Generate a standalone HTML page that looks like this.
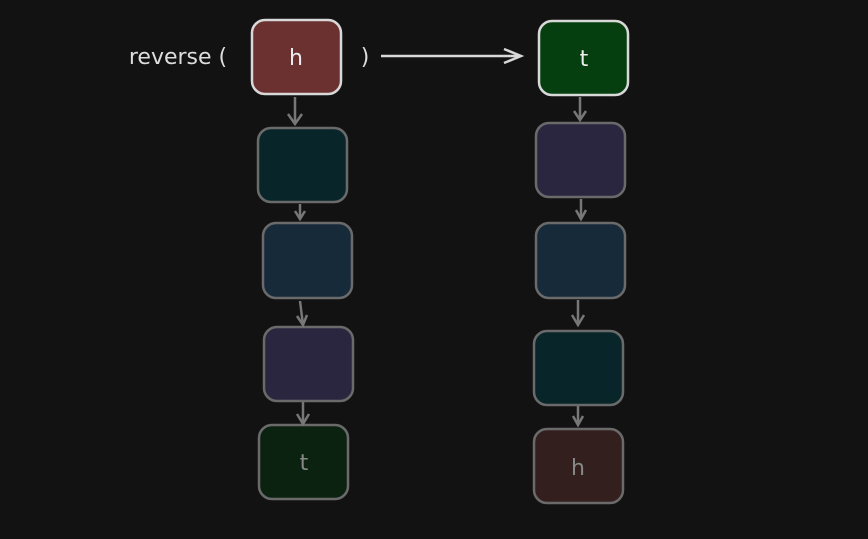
<!DOCTYPE html>
<html><head><style>
body{margin:0;background:#121212;width:868px;height:535px;overflow:hidden;font-family:"DejaVu Sans","Liberation Sans",sans-serif}
</style></head><body>
<svg width="868" height="535" xmlns="http://www.w3.org/2000/svg">
<rect width="868" height="535" fill="#121212"/>
<defs>
<marker id="g" markerWidth="10" markerHeight="10" refX="5" refY="8" orient="auto" markerUnits="userSpaceOnUse"><path d="M0,0 L5,8 L10,0" fill="none" stroke="#777" stroke-width="2"/></marker>
</defs>
<g stroke="#6a6a6a" stroke-width="2.5">
<rect x="258" y="128" width="89" height="74" rx="13" fill="#082629"/>
<rect x="263" y="223" width="89" height="75" rx="13" fill="#162a3a"/>
<rect x="264" y="327" width="89" height="74" rx="13" fill="#2a263f"/>
<rect x="259" y="425" width="89" height="74" rx="13" fill="#0c2210"/>
<rect x="536" y="123" width="89" height="74" rx="13" fill="#2a263f"/>
<rect x="536" y="223" width="89" height="75" rx="13" fill="#162a3a"/>
<rect x="534" y="331" width="89" height="74" rx="13" fill="#082629"/>
<rect x="534" y="429" width="89" height="74" rx="13" fill="#341f1f"/>
</g>
<g stroke="#d8d8d8" stroke-width="2.5">
<rect x="252" y="20" width="89" height="74" rx="13" fill="#6b3030"/>
<rect x="539" y="21" width="89" height="74" rx="13" fill="#053f0f"/>
</g>
<g stroke="#777" stroke-width="2.5" fill="none">
<path d="M295,97 L295,124"/><path d="M288,114 L295,124 L302,114"/>
<path d="M300,204 L300,219"/><path d="M295,211 L300,219 L305,211"/>
<path d="M300,301 L303,325"/><path d="M297,316 L303,325 L307,315"/>
<path d="M303,402 L303,424"/><path d="M297,414 L303,424 L309,414"/>
<path d="M580,97 L580,120"/><path d="M574,111 L580,120 L586,111"/>
<path d="M581,199 L581,219"/><path d="M576,210 L581,219 L586,210"/>
<path d="M578,300 L578,325"/><path d="M572,315 L578,325 L584,315"/>
<path d="M578,406 L578,425"/><path d="M573,416 L578,425 L583,416"/>
</g>
<g stroke="#d8d8d8" stroke-width="2.5" fill="none">
<path d="M381,56 L521,56"/><path d="M504,49 L521,56 L504,63"/>
</g>
<text x="178" y="64" text-anchor="middle" font-size="22" fill="#dddddd">reverse (</text>
<text x="365" y="64" text-anchor="middle" font-size="22" fill="#dddddd">)</text>
<text x="296" y="65" text-anchor="middle" font-size="22" fill="#eeeeee">h</text>
<text x="584" y="66" text-anchor="middle" font-size="22" fill="#eeeeee">t</text>
<text x="304" y="470" text-anchor="middle" font-size="22" fill="#888">t</text>
<text x="578" y="475" text-anchor="middle" font-size="22" fill="#888">h</text>
</svg>
</body></html>
